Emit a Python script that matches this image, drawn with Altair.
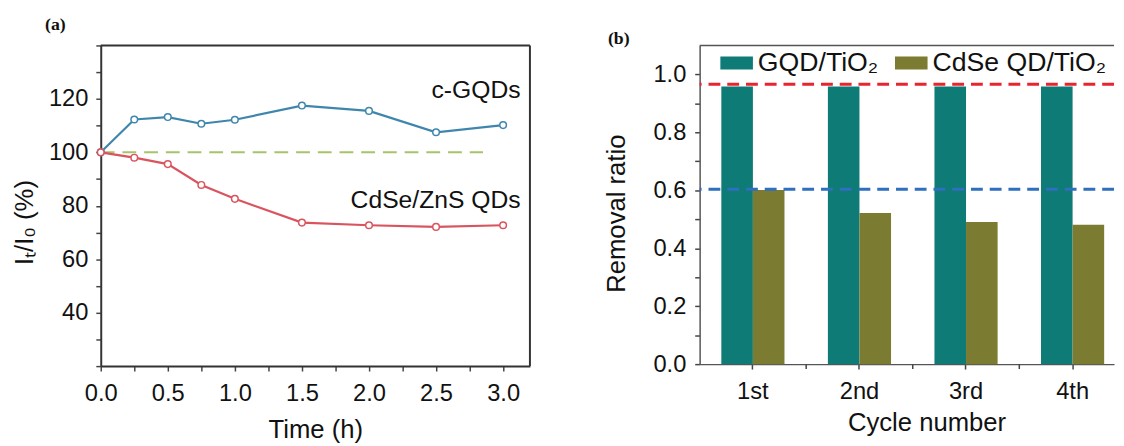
import altair as alt
import pandas as pd

# ---------------- Panel (a) data ----------------
time_h = [0, 0.25, 0.5, 0.75, 1.0, 1.5, 2.0, 2.5, 3.0]
gqd_pct = [100, 112.3, 113.2, 110.7, 112.2, 117.5, 115.5, 107.5, 110.2]
cdse_pct = [100, 98.0, 95.6, 87.8, 82.6, 73.7, 72.7, 72.1, 72.7]
series_names = ["c-GQDs", "CdSe/ZnS QDs"]
series_colors = ["#3f86ad", "#d9545e"]
ref_time = [0, 2.85]
ref_pct = [100, 100]
label_time = [3.13, 3.13]
label_pct = [120.2, 79.3]
time_ticks = [0, 0.25, 0.5, 0.75, 1.0, 1.25, 1.5, 1.75, 2.0, 2.25, 2.5, 2.75, 3.0]
pct_ticks = [20, 30, 40, 50, 60, 70, 80, 90, 100, 110, 120, 130, 140]
time_range = [0, 3.2]
pct_range = [20, 140]

# ---------------- Panel (b) data ----------------
cycles = ["1st", "2nd", "3rd", "4th"]
minor_tick_cycles = ["1st", "2nd", "3rd"]
gqd_tio2 = [0.958, 0.958, 0.958, 0.958]
cdse_tio2 = [0.601, 0.522, 0.491, 0.481]
materials = ["GQD/TiO₂", "CdSe QD/TiO₂"]
material_colors = ["#0e7b76", "#7b7b32"]
ref_levels = [0.966, 0.604]
ref_colors = ["#e8242f", "#2e6fbe"]
ratio_ticks = [0, 0.1, 0.2, 0.3, 0.4, 0.5, 0.6, 0.7, 0.8, 0.9, 1.0]
ratio_range = [0, 1.1]

FONT = "Liberation Sans"
AX = dict(tickSize=5, tickWidth=1.5, tickColor="#444", labelFontSize=24,
          labelColor="#111", labelFont=FONT, titleFont=FONT, titleFontSize=26,
          titleFontWeight="normal", titleColor="#111", grid=False,
          labelOverlap=False, labelFlush=False)
FRAME_A = "#333333"

# ---------------- Panel (a) ----------------
df_a = pd.DataFrame({
    "t": time_h + time_h,
    "v": gqd_pct + cdse_pct,
    "s": [series_names[0]] * len(time_h) + [series_names[1]] * len(time_h),
})
df_ref = pd.DataFrame({"t": ref_time, "v": ref_pct})
df_lab = pd.DataFrame({"t": label_time, "v": label_pct, "s": series_names})

xa = alt.X("t:Q", scale=alt.Scale(domain=time_range, nice=False, zero=False),
           axis=alt.Axis(values=time_ticks, title="Time (h)", domainColor=FRAME_A, domainWidth=2,
                         labelExpr="datum.value % 0.5 == 0 ? format(datum.value, '.1f') : ''",
                         labelPadding=11, titleY=72, titleBaseline="alphabetic", **AX))
ya = alt.Y("v:Q", scale=alt.Scale(domain=pct_range, nice=False, zero=False),
           axis=alt.Axis(values=pct_ticks, title="Iₜ/I₀ (%)", domainColor=FRAME_A, domainWidth=2,
                         labelExpr="datum.value >= 40 && datum.value <= 120 && datum.value % 20 == 0 ? datum.value : ''",
                         labelPadding=8, titleX=-77, titleY=179, titleBaseline="middle",
                         titleAlign="center", titleAngle=270, **AX))
stroke_a = alt.Stroke("s:N", scale=alt.Scale(domain=series_names, range=series_colors), legend=None)

frame_top = alt.Chart(pd.DataFrame({"v": [pct_range[1]]})).mark_rule(
    color=FRAME_A, strokeWidth=2).encode(y=ya)
frame_right = alt.Chart(pd.DataFrame({"t": [time_range[1]]})).mark_rule(
    color=FRAME_A, strokeWidth=2).encode(x=xa)
ref_line = alt.Chart(df_ref).mark_line(strokeDash=[14, 8], strokeWidth=2, color="#a8c46a").encode(x=xa, y=ya)
lines = alt.Chart(df_a).mark_line(strokeWidth=2.2).encode(x=xa, y=ya, stroke=stroke_a, detail="s:N")
points = alt.Chart(df_a).mark_point(shape="circle", size=45, fill="white", fillOpacity=1,
                                    strokeWidth=1.5, opacity=1).encode(x=xa, y=ya, stroke=stroke_a)
labels = alt.Chart(df_lab).mark_text(align="right", baseline="alphabetic", fontSize=25,
                                     font=FONT, color="#111").encode(x=xa, y=ya, text="s:N")
tag_a = alt.Chart(pd.DataFrame({"tag": ["(a)"]})).mark_text(
    font="Liberation Serif", fontWeight="bold", fontSize=18, color="#111", baseline="middle"
).encode(text="tag:N", x=alt.value(-46), y=alt.value(-21))

panel_a = alt.layer(frame_top, frame_right, ref_line, lines, points, labels, tag_a).properties(
    width=435, height=325,
)

# ---------------- Panel (b) ----------------
df_b = pd.DataFrame({
    "cycle": cycles + cycles,
    "material": [materials[0]] * 4 + [materials[1]] * 4,
    "ratio": gqd_tio2 + cdse_tio2,
})
df_lvl = pd.DataFrame({"level": ref_levels, "col": ref_colors})
df_top = pd.DataFrame({"edge": [ratio_range[1]]})
df_minor = pd.DataFrame({"cycle": minor_tick_cycles})

xb_scale = alt.Scale(domain=cycles, paddingInner=0.4074, paddingOuter=0.148, align=0.6875)
xb_axis = alt.Axis(title="Cycle number", labelAngle=0, domainColor="#555", domainWidth=1.5,
                   labelPadding=11, titleX=230, titleY=67, titleBaseline="alphabetic", **AX)
yb_scale = alt.Scale(domain=ratio_range, nice=False, zero=True)
yb_axis = alt.Axis(values=ratio_ticks, title="Removal ratio", domainColor="#555", domainWidth=1.5,
                   labelExpr="round(datum.value * 10) % 2 == 0 ? format(datum.value, '.1f') : ''",
                   labelPadding=9, titleX=-84, titleY=170, titleBaseline="middle",
                   titleAlign="center", titleAngle=270, **AX)

bars = alt.Chart(df_b).mark_bar().encode(
    x=alt.X("cycle:N", sort=cycles, scale=xb_scale, axis=xb_axis),
    xOffset=alt.XOffset("material:N", sort=materials,
                        scale=alt.Scale(paddingInner=0, paddingOuter=0)),
    y=alt.Y("ratio:Q", scale=yb_scale, axis=yb_axis),
    color=alt.Color("material:N", sort=materials,
                    scale=alt.Scale(domain=materials, range=material_colors),
                    legend=alt.Legend(title=None, orient="none", legendX=628, legendY=1,
                                      direction="horizontal",
                                      symbolType="M-1,-0.394H1V0.394H-1Z", symbolSize=1089,
                                      symbolStrokeWidth=0, symbolOpacity=1,
                                      labelFontSize=27, labelFont=FONT, labelColor="#111",
                                      labelOffset=5, columnPadding=17, labelLimit=400,
                                      padding=0)),
)
levels = alt.Chart(df_lvl).mark_rule(strokeDash=[12, 7], strokeWidth=3).encode(
    y=alt.Y("level:Q", scale=yb_scale, axis=yb_axis),
    stroke=alt.Stroke("col:N", scale=None),
)
top_edge = alt.Chart(df_top).mark_rule(color="#555", strokeWidth=1.5).encode(
    y=alt.Y("edge:Q", scale=yb_scale, axis=yb_axis)
)
minor_ticks = alt.Chart(df_minor).mark_rule(color="#444", strokeWidth=1.5, xOffset=54).encode(
    x=alt.X("cycle:N", sort=cycles, scale=xb_scale, axis=xb_axis),
    y=alt.value(323), y2=alt.value(328),
)
tag_b = alt.Chart(pd.DataFrame({"tag": ["(b)"]})).mark_text(
    font="Liberation Serif", fontWeight="bold", fontSize=18, color="#111", baseline="middle"
).encode(text="tag:N", x=alt.value(-82), y=alt.value(-6))

panel_b = alt.layer(bars, levels, top_edge, minor_ticks, tag_b).properties(
    width=420, height=323,
)

chart = alt.hconcat(panel_a, panel_b, spacing=172, bounds="flush").properties(
    padding={"left": 4, "top": 5, "right": 0, "bottom": 0},
    background="white",
).configure(font=FONT).configure_view(strokeOpacity=0)

chart.save("out.html", embed_options={"renderer": "svg", "actions": False})
